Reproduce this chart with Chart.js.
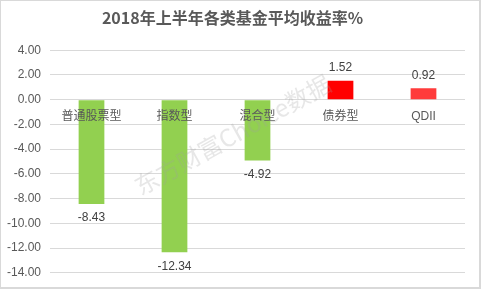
<!DOCTYPE html>
<html lang="zh">
<head>
  <meta charset="UTF-8" />
  <title>2018年上半年各类基金平均收益率</title>
  <script src="https://cdn.jsdelivr.net/npm/chart.js"></script>
  <style>
    body { margin: 0; padding: 0; background: #fff; }
    .marco { position: relative; width: 481px; height: 289px; }
    .marco canvas { position: absolute; left: 0; top: 0; }
    .borde {
      position: absolute; inset: 0; pointer-events: none;
      border: 1px solid #d9d9d9; border-right-width: 2px; border-bottom-width: 2px;
    }
  </style>
</head>
<body>
  <div class="marco">
    <canvas id="grafico" width="481" height="289"></canvas>
    <div class="borde"></div>
  </div>

  <script>
    const categorias = ["普通股票型", "指数型", "混合型", "债券型", "QDII"];
    const rendimientos = [-8.43, -12.34, -4.92, 1.52, 0.92];
    const colores = ["#92D050", "#92D050", "#92D050", "#FF0000", "#FF3B3B"];
    const yMin = -14, yMax = 4, yPaso = 2;

    const fuente = '"Liberation Sans", "Noto Sans CJK SC", sans-serif';

    // etiquetas de valor debajo/encima de cada barra
    const etiquetas = {
      id: 'etiquetas',
      afterDatasetsDraw(chart) {
        const ctx = chart.ctx;
        const meta = chart.getDatasetMeta(0);
        ctx.save();
        ctx.font = '12px ' + fuente;
        ctx.fillStyle = '#404040';
        ctx.textAlign = 'center';
        ctx.textBaseline = 'middle';
        meta.data.forEach((bar, i) => {
          const v = rendimientos[i];
          const y = v < 0 ? bar.y + 14 : bar.y - 13;
          ctx.fillText(v.toFixed(2), bar.x, y);
        });
        ctx.restore();
      }
    };

    const marcaAgua = {
      id: 'marcaAgua',
      afterDraw(chart) {
        const { left, top, width, height } = chart.chartArea;
        const ctx = chart.ctx;
        ctx.save();
        ctx.translate(left + width * 0.44, top + height * 0.38);
        ctx.rotate(-29 * Math.PI / 180);
        ctx.font = '24px "Noto Sans CJK SC", sans-serif';
        ctx.fillStyle = 'rgba(160,160,160,0.25)';
        ctx.textAlign = 'center';
        ctx.textBaseline = 'middle';
        ctx.fillText('东方财富Choice数据', 0, 0);
        ctx.restore();
      }
    };

    new Chart(document.getElementById("grafico").getContext("2d"), {
      type: "bar",
      data: {
        labels: categorias,
        datasets: [{
          data: rendimientos,
          backgroundColor: colores,
          borderWidth: 0,
          barPercentage: 0.31,
          categoryPercentage: 1
        }]
      },
      options: {
        responsive: false,
        animation: false,
        layout: { padding: { left: 0, right: 16, bottom: 16 } },
        plugins: {
          legend: { display: false },
          tooltip: { enabled: false },
          title: {
            display: true,
            text: "2018年上半年各类基金平均收益率%",
            color: "#595959",
            font: { family: '"Noto Sans CJK SC", sans-serif', size: 16, weight: 'bold', lineHeight: 1.2 },
            padding: { top: 8, bottom: 23 }
          }
        },
        scales: {
          x: {
            position: { y: 0 },
            offset: true,
            grid: { display: false },
            border: { display: false },
            ticks: {
              z: 1,
              color: "#595959",
              padding: 2,
              maxRotation: 0,
              font: { family: fuente, size: 12 }
            }
          },
          y: {
            min: yMin,
            max: yMax,
            afterFit(scale) { scale.width = 50; },
            grid: { color: "#d9d9d9", drawTicks: false },
            border: { display: false },
            ticks: {
              stepSize: yPaso,
              color: "#595959",
              padding: 9,
              font: { family: fuente, size: 12 },
              callback: v => v.toFixed(2)
            }
          }
        }
      },
      plugins: [etiquetas, marcaAgua]
    });
  </script>
</body>
</html>
